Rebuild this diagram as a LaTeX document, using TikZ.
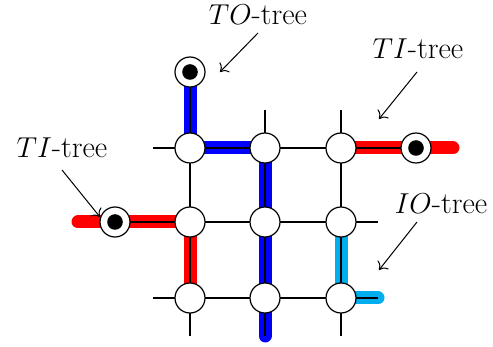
\documentclass[tikz,border=0pt]{standalone}
\usetikzlibrary{arrows.meta,backgrounds}
\definecolor{ioblue}{RGB}{0,174,239}
\begin{document}
\begin{tikzpicture}[x=0.5pt,y=-0.5pt,
  gridline/.style={line width=0.62pt},
  vtx/.style={circle,draw,fill=white,line width=0.6pt,minimum size=15pt,inner sep=0pt},
  term/.style={vtx,path picture={\fill[black] (path picture bounding box.center) circle (3.9pt);}},
  tree/.style={line width=6.5pt,line cap=round,line join=round},
  lbl/.style={font=\fontsize{15.2}{18}\selectfont,inner sep=0pt},
  pointer/.style={-{To[length=3.5pt,width=7pt]},line width=0.5pt}
]
\useasboundingbox (0,0) rectangle (493,347);
% grid vertices
\node[vtx] (a1) at (190,148) {};
\node[vtx] (a2) at (265,148) {};
\node[vtx] (a3) at (341,148) {};
\node[vtx] (b1) at (190,222) {};
\node[vtx] (b2) at (265,222) {};
\node[vtx] (b3) at (341,222) {};
\node[vtx] (c1) at (190,298) {};
\node[vtx] (c2) at (265,298) {};
\node[vtx] (c3) at (341,298) {};
% terminals
\node[term] (tT) at (190,72) {};
\node[term] (tR) at (416,148) {};
\node[term] (tL) at (115,222) {};
% stub ends
\coordinate (sa0) at (153,148);
\coordinate (sc0) at (153,298);
\coordinate (sb4) at (378,222);
\coordinate (sc4) at (378,298);
\coordinate (s02) at (265,110);
\coordinate (s03) at (341,110);
\coordinate (s41) at (190,336);
\coordinate (s42) at (265,336);
\coordinate (s43) at (341,336);
\coordinate (eR) at (453,148);
\coordinate (eL) at (78,222);
\begin{scope}[on background layer]
  \draw[tree,blue] (tT.center) -- (a1.center) -- (a2.center) -- (s42);
  \draw[tree,red] (a3.center) -- (eR);
  \draw[tree,red] (eL) -- (b1.center) -- (c1.center);
  \draw[tree,ioblue] (b3.center) -- (c3.center) -- (sc4);
  \draw[gridline] (sa0) -- (a1.center) -- (a2.center) -- (a3.center) -- (tR.center);
  \draw[gridline] (tL.center) -- (b1.center) -- (b2.center) -- (b3.center) -- (sb4);
  \draw[gridline] (sc0) -- (c1.center) -- (c2.center) -- (c3.center) -- (sc4);
  \draw[gridline] (tT.center) -- (a1.center) -- (b1.center) -- (c1.center) -- (s41);
  \draw[gridline] (s02) -- (a2.center) -- (b2.center) -- (c2.center) -- (s42);
  \draw[gridline] (s03) -- (a3.center) -- (b3.center) -- (c3.center) -- (s43);
\end{scope}
% labels
\node[lbl] (lTO) at (258,15) {$TO$-tree};
\node[lbl] (lTIr) at (418,49) {$TI$-tree};
\node[lbl] (lTIl) at (62,148) {$TI$-tree};
\node[lbl] (lIO) at (441,204) {$IO$-tree};
\coordinate (pTOs) at (258,33);
\coordinate (pTOe) at (220,72);
\coordinate (pTIrs) at (417,72);
\coordinate (pTIre) at (379,119);
\coordinate (pTIls) at (62,170);
\coordinate (pTIle) at (100,217);
\coordinate (pIOs) at (417,222);
\coordinate (pIOe) at (379,270);
\draw[pointer] (pTOs) -- (pTOe);
\draw[pointer] (pTIrs) -- (pTIre);
\draw[pointer] (pTIls) -- (pTIle);
\draw[pointer] (pIOs) -- (pIOe);
\end{tikzpicture}
\end{document}
